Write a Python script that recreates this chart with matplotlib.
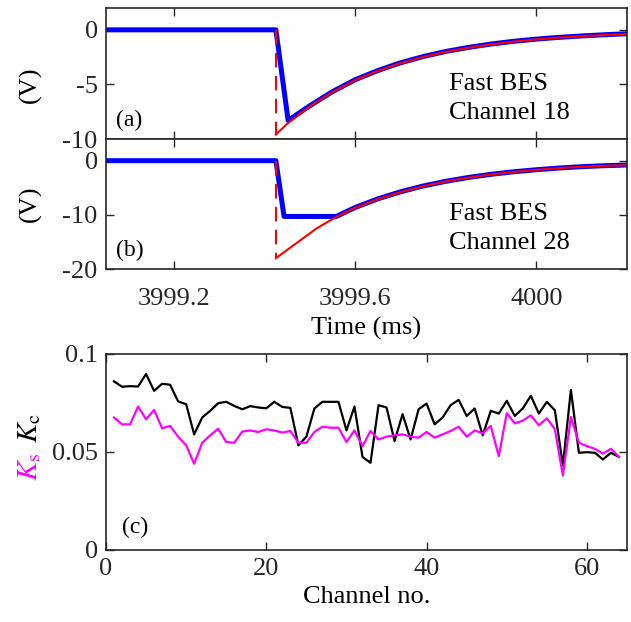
import numpy as np
import matplotlib
matplotlib.use("Agg")
from matplotlib import pyplot as plt

plt.rcParams['font.family'] = ['Liberation Serif', 'DejaVu Serif']
plt.rcParams['mathtext.fontset'] = 'stix'
plt.rcParams['font.size'] = 19
plt.rcParams['axes.unicode_minus'] = False

# panel (a): channel 18, fit (red) and measured (blue)
t_fit_a = [3999.425, 3999.45, 3999.5, 3999.55, 3999.6, 3999.65, 3999.7, 3999.75, 3999.8,
           3999.85, 3999.9, 3999.95, 4000.0, 4000.05, 4000.1, 4000.15, 4000.2]
v_fit_a = [-9.6, -8.6, -7.0, -5.7, -4.6, -3.76, -3.05, -2.48, -2.01,
           -1.64, -1.33, -1.08, -0.88, -0.71, -0.58, -0.47, -0.38]
t_meas_a = [3999.05, 3999.425, 3999.452, 3999.5, 3999.55, 3999.6, 3999.65, 3999.7, 3999.75,
            3999.8, 3999.85, 3999.9, 3999.95, 4000.0, 4000.05, 4000.1, 4000.15, 4000.2]
v_meas_a = [0, 0, -8.3, -6.95, -5.66, -4.57, -3.73, -3.02, -2.45,
            -1.98, -1.61, -1.3, -1.05, -0.85, -0.69, -0.56, -0.45, -0.36]

# panel (b): channel 28 (saturated)
t_fit_b = [3999.425, 3999.515, 3999.56, 3999.6, 3999.65, 3999.7, 3999.75, 3999.8,
           3999.85, 3999.9, 3999.95, 4000.0, 4000.05, 4000.1, 4000.15, 4000.2]
v_fit_b = [-18.0, -12.5, -10.3, -8.7, -7.1, -5.8, -4.72, -3.85,
           -3.13, -2.55, -2.08, -1.70, -1.38, -1.13, -0.95, -0.82]
t_meas_b = [3999.05, 3999.425, 3999.443, 3999.558, 3999.6, 3999.65, 3999.7, 3999.75, 3999.8,
            3999.85, 3999.9, 3999.95, 4000.0, 4000.05, 4000.1, 4000.15, 4000.2]
v_meas_b = [0, 0, -10.3, -10.3, -8.65, -7.05, -5.75, -4.68, -3.81,
            -3.1, -2.52, -2.05, -1.67, -1.36, -1.11, -0.93, -0.8]

t_step = 3999.425

# panel (c)
channel = np.arange(1, 65)
K_c = [0.0860, 0.0833, 0.0836, 0.0834, 0.0898, 0.0812, 0.0848, 0.0843, 0.0758, 0.0744,
       0.0590, 0.0676, 0.0710, 0.0749, 0.0756, 0.0735, 0.0718, 0.0734, 0.0727, 0.0723,
       0.0756, 0.0730, 0.0725, 0.0534, 0.0578, 0.0722, 0.0756, 0.0756, 0.0756, 0.0610,
       0.0732, 0.0475, 0.0445, 0.0739, 0.0727, 0.0556, 0.0693, 0.0564, 0.0718, 0.0747,
       0.0641, 0.0676, 0.0739, 0.0766, 0.0684, 0.0722, 0.0585, 0.0710, 0.0696, 0.0761,
       0.0684, 0.0722, 0.0787, 0.0696, 0.0756, 0.0713, 0.0431, 0.0817, 0.0496, 0.0499,
       0.0496, 0.0462, 0.0496, 0.0475]
K_s = [0.0676, 0.0641, 0.0641, 0.0732, 0.0667, 0.0715, 0.0621, 0.0633, 0.0578, 0.0534,
       0.0440, 0.0547, 0.0585, 0.0619, 0.0551, 0.0547, 0.0604, 0.0610, 0.0602, 0.0616,
       0.0610, 0.0599, 0.0607, 0.0547, 0.0547, 0.0602, 0.0629, 0.0624, 0.0624, 0.0551,
       0.0610, 0.0530, 0.0607, 0.0564, 0.0578, 0.0585, 0.0590, 0.0578, 0.0573, 0.0602,
       0.0573, 0.0590, 0.0607, 0.0629, 0.0578, 0.0610, 0.0595, 0.0633, 0.0479, 0.0698,
       0.0646, 0.0660, 0.0687, 0.0636, 0.0672, 0.0616, 0.0380, 0.0679, 0.0547, 0.0530,
       0.0516, 0.0492, 0.0516, 0.0475]

W, H = 631, 622
fig = plt.figure(figsize=(W / 100, H / 100), dpi=100)
L, R = 106 / W, 627 / W
ax_a = fig.add_axes([L, 1 - 139 / H, R - L, 131 / H])
ax_b = fig.add_axes([L, 1 - 269 / H, R - L, 130 / H])
ax_c = fig.add_axes([L, 1 - 550 / H, R - L, 196 / H])

edge = '#262626'
for ax in (ax_a, ax_b, ax_c):
    for s in ax.spines.values():
        s.set_color(edge)
        s.set_linewidth(1.2)
    ax.tick_params(direction='in', top=True, right=True, length=6, width=1.0,
                   colors=edge, labelcolor='#262626', pad=6)

panels = [(ax_a, t_meas_a, v_meas_a, t_fit_a, v_fit_a, (-10, 2), [-10, -5, 0], '(a)', '18'),
          (ax_b, t_meas_b, v_meas_b, t_fit_b, v_fit_b, (-20, 4), [-20, -10, 0], '(b)', '28')]
for ax, tm, vm, tf, vf, yl, yt, lab, ch in panels:
    ax.plot(tm, vm, color='#0000ff', lw=3.6, solid_joinstyle='round')
    ax.plot(tf, vf, color='#ff0000', lw=1.5)
    ax.plot([t_step, t_step], [0, vf[0]], color='#ff0000', lw=1.5, dashes=(7, 4))
    ax.set_xlim(3999.05, 4000.2)
    ax.set_ylim(*yl)
    ax.set_yticks(yt)
    ax.set_xticks([3999.2, 3999.6, 4000])
    ax.text(0.02, 0.14, lab, transform=ax.transAxes, fontsize=17, va='center')
    ax.text(0.658, 0.42, 'Fast BES', transform=ax.transAxes, fontsize=19, va='center')
    ax.text(0.658, 0.20, 'Channel ' + ch, transform=ax.transAxes, fontsize=19, va='center')

ax_a.set_xticklabels([])
ax_b.set_xticklabels(['3999.2', '3999.6', '4000'])
ax_b.tick_params(axis='x', pad=14)
ax_b.set_xlabel('Time (ms)', labelpad=5)
fig.text(30 / W, 1 - 85 / H, '(V)', rotation=90, ha='center', va='center', fontsize=19)
fig.text(30 / W, 1 - 204 / H, '(V)', rotation=90, ha='center', va='center', fontsize=19)

ax_c.plot(channel, K_c, color='black', lw=1.6)
ax_c.plot(channel, K_s, color='#ff00ff', lw=1.6)
ax_c.set_xlim(0, 65)
ax_c.set_ylim(0, 0.1)
ax_c.set_xticks([0, 20, 40, 60])
ax_c.set_yticks([0, 0.05, 0.1])
ax_c.set_yticklabels(['0', '0.05', '0.1'])
ax_c.set_xlabel('Channel no.', labelpad=4)
ax_c.text(0.031, 0.117, '(c)', transform=ax_c.transAxes, fontsize=17, va='center')
fig.text(30 / W, 1 - 428 / H, r'$K_{\rm c}$', rotation=90, ha='center', va='center',
         fontsize=21, color='black')
fig.text(30 / W, 1 - 467 / H, r'$K_{\rm s}$', rotation=90, ha='center', va='center',
         fontsize=21, color='#ff00ff')

fig.savefig('out.png', dpi=100)
